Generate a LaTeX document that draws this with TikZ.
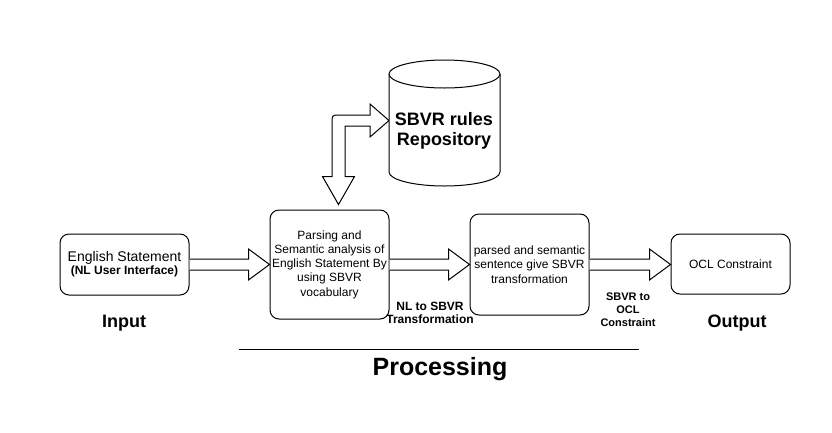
\documentclass[tikz,border=0pt]{standalone}
\usepackage{fontspec}
\setmainfont{Liberation Sans}
\usetikzlibrary{calc}
\tikzset{
  box/.style={draw=black, line width=1pt, rounded corners=9pt, fill=white, align=center, inner sep=0pt,
    font=\fontsize{12}{14.3}\selectfont},
  barrow/.style={draw=black, line width=1pt, fill=white, line join=miter},
  lbl/.style={align=center, inner sep=0pt, font=\bfseries\fontsize{12}{12.8}\selectfont},
  big/.style={inner sep=0pt, font=\bfseries\fontsize{18}{20}\selectfont},
}
\newcommand\blockarr[2]{%
  \draw[barrow] let \p1=(#1), \p2=(#2) in
    (\x1,\y1+5.5) -- (\x2-21,\y1+5.5) -- (\x2-21,\y1+15.5) -- (\x2,\y1)
    -- (\x2-21,\y1-15.5) -- (\x2-21,\y1-5.5) -- (\x1,\y1-5.5);}
\begin{document}
\begin{tikzpicture}[x=1pt,y=-1pt]
\useasboundingbox (0,0) rectangle (832,432);

% boxes
\node[box, minimum width=129pt, minimum height=61pt] (b1) at (124.5,264.5)
  {\fontsize{14}{15}\selectfont English Statement\\[-1pt]{\bfseries\fontsize{12}{14}\selectfont (NL User Interface)}};
\node[box, minimum width=119pt, minimum height=109pt] (b2) at (329.5,264.5)
  {Parsing and\\Semantic analysis of\\English Statement By\\using SBVR\\vocabulary};
\node[box, minimum width=119pt, minimum height=101pt] (b3) at (529.5,264.5)
  {parsed and semantic\\sentence give SBVR\\transformation};
\node[box, minimum width=119pt, minimum height=60pt] (b4) at (730.5,264)
  {OCL Constraint};

\coordinate (cylW) at (389,120.5);
\coordinate (b2N) at ($(b2.north)+(9,-5)$);

% elbow double arrow
\draw[barrow] let \p1=(b2N), \p2=(cylW) in
  (\x1,\y1) -- (\x1-16,\y1+28) -- (\x1-6.5,\y1+28) -- (\x1-6.5,\y2-2.5)
  .. controls (\x1-6.5,\y2+5.5) .. (\x1+1.5,\y2+5.5)
  -- (\x2-19,\y2+5.5) -- (\x2-19,\y2+16.5) -- (\x2,\y2) -- (\x2-19,\y2-16.5)
  -- (\x2-19,\y2-5.5) -- (\x1+6.5,\y2-5.5) -- (\x1+6.5,\y1+28) -- (\x1+16,\y1+28) -- cycle;

% cylinder
\draw[line width=1pt, fill=white] (389,74) -- (389,172)
  arc[start angle=180, end angle=0, x radius=55.5, y radius=14] -- (500,74);
\draw[line width=1pt, fill=white] (444.5,74) ellipse[x radius=55.5, y radius=14];
\node[inner sep=0pt, align=center, font=\bfseries\fontsize{18}{19.5}\selectfont] (cyl) at (444,131)
  {SBVR rules\\Repository};

% block arrows
\blockarr{b1.east}{b2.west}
\blockarr{b2.east}{b3.west}
\blockarr{b3.east}{b4.west}

% labels
\node[lbl] (l1) at (430,313) {NL to SBVR\\Transformation};
\node[lbl, font=\bfseries\fontsize{11}{12.8}\selectfont] (l2) at (628,309.5) {SBVR to\\OCL\\Constraint};
\node[big] (in) at (124,323) {Input};
\node[big] (out) at (737,323) {Output};
\node[inner sep=0pt, font=\bfseries\fontsize{25}{27}\selectfont] (proc) at (440,369.5) {Processing};
\coordinate (rL) at (239,349);
\coordinate (rR) at (639,349);
\draw[line width=1pt] (rL) -- (rR);
\end{tikzpicture}
\end{document}
